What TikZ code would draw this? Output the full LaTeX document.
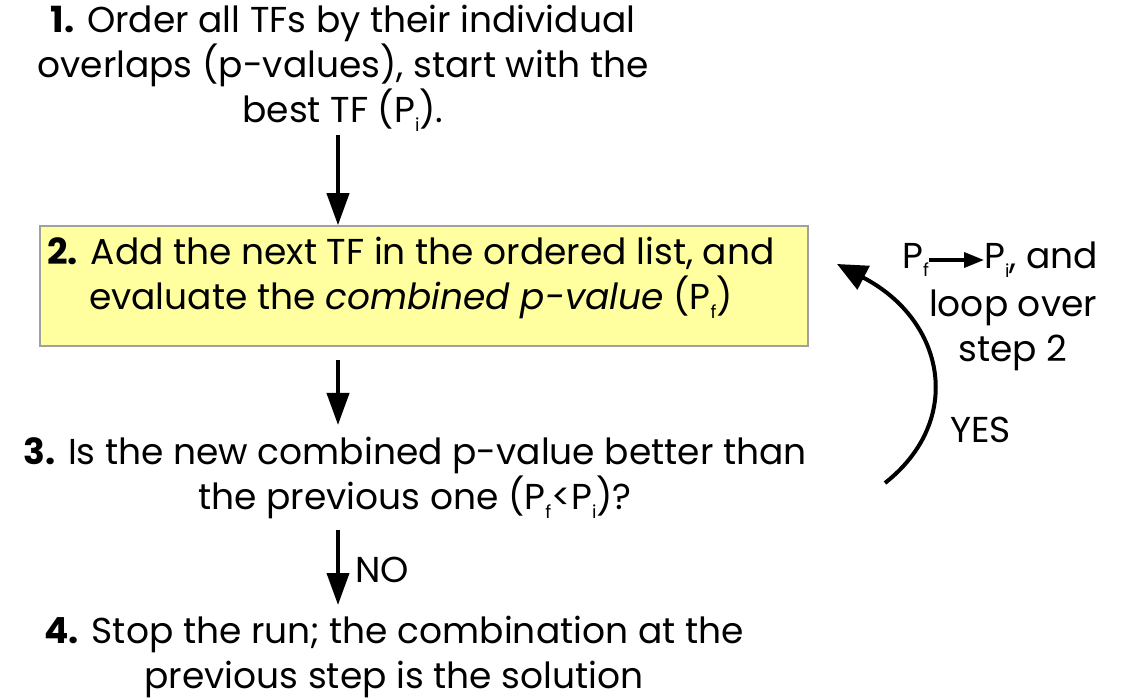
\documentclass[tikz,border=0pt]{standalone}
\usepackage{fontspec}
\setmainfont{Poppins}
\usetikzlibrary{arrows.meta,calc}
\definecolor{boxfill}{HTML}{FFFFA0}
\definecolor{boxline}{HTML}{A0A0A0}
\newcommand\sbs[1]{\raisebox{-0.45ex}{\scalebox{0.5}{#1}}}
\begin{document}
\begin{tikzpicture}[x=1pt,y=-1pt,
  txt/.style={inner sep=0pt,align=center,font=\fontsize{36}{45}\selectfont},
  arr/.style={line width=4pt,-{Triangle[length=32pt,width=22pt]}},
  loopar/.style={line width=4pt,-{Triangle[length=30pt,width=26pt]}},
  small/.style={line width=3.5pt,-{Triangle[length=20pt,width=15pt]}}]
\useasboundingbox (0,0) rectangle (1127,700);
\node[txt,anchor=north] (n1) at (343,5) {\textbf{1.} Order all TFs by their individual\\overlaps (p-values), start with the\\best TF (P\sbs{i}).};
\node[draw=boxline,fill=boxfill,line width=1.5pt,minimum width=768pt,minimum height=120pt,inner sep=0pt] (n2) at (424,286) {};
\node[txt] (n2t) at (411,278) {\textbf{2.} Add the next TF in the ordered list, and\\evaluate the \textit{combined p-value} (P\sbs{f})};
\node[txt,anchor=north] (n3) at (415,437) {\textbf{3.} Is the new combined p-value better than\\the previous one (P\sbs{f}<P\sbs{i})?};
\node[txt,anchor=north] (n4) at (394,616) {\textbf{4.} Stop the run; the combination at the\\previous step is the solution};
\coordinate (a1s) at (338,135);
\coordinate (a2s) at (338,360);
\coordinate (a3s) at (338,530);
\draw[arr] (a1s) -- (a1s |- n2.north);
\draw[arr] (a2s) -- (338,425);
\draw[arr] (a3s) -- (338,605);
\node[txt,anchor=west] (no) at (355,570) {NO};
% loop
\coordinate (ls) at (885,483);
\coordinate (lt) at (837,264);
\draw[loopar] (ls) .. controls (965,420) and (945,320) .. (lt);
\node[txt,anchor=west] (pf) at (902,260) {P\sbs{f}};
\node[txt,anchor=west] (pi) at (984,260) {P\sbs{i}, and};
\draw[small] (pf) -- (pi);
\node[txt] (loop) at (1013,330) {loop over\\step 2};
\node[txt,anchor=west] (yes) at (950,430) {YES};
\end{tikzpicture}
\end{document}
